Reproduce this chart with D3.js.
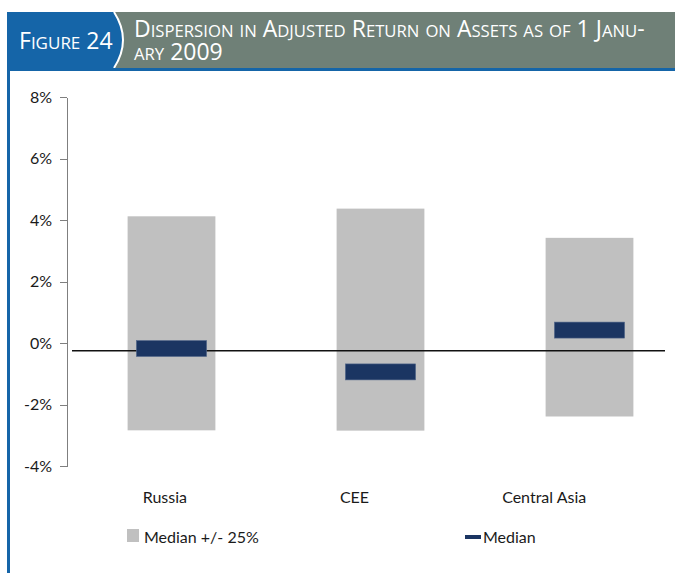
<!DOCTYPE html>
<html lang="en">
  <head>
    <meta charset="utf-8">
    <title>Figure 24 -- Dispersion in adjusted ROA</title>
    <script src="https://cdn.jsdelivr.net/npm/d3@7"></script>
    <style>
      body { margin: 0; background: #fff; }
      .axis text { font-family: Lato, sans-serif; font-size: 16px; fill: #1a1a1a; }
      .axis path, .axis line { stroke: #7f7f7f; shape-rendering: crispEdges; }
      .cat_label, .legend text { font-family: Lato, sans-serif; font-size: 16px; fill: #1a1a1a; }
      .head text { font-family: "Open Sans", sans-serif; fill: #fff; }
    </style>
  </head>
  <body>
    <div id="svg-area"></div>
    <script>
      const svg_width = 675;
      const svg_height = 573;

      // data (percent)
      const categories = ['Russia', 'CEE', 'Central Asia'];
      const range_low = [-2.84, -2.85, -2.39];
      const range_high = [4.12, 4.37, 3.42];
      const medians = [-0.18, -0.94, 0.42];
      const ref_value = -0.25;
      const y_ticks = [-4, -2, 0, 2, 4, 6, 8];
      const legend_labels = ['Median +/- 25%', 'Median'];

      const dataset = categories.map((c, i) => ({
        key: c, low: range_low[i], high: range_high[i], median: medians[i]
      }));

      const margin = {top: 97, right: -19, bottom: 107, left: 67};

      const svg = d3.select('#svg-area')
        .append('svg')
        .attr('width', svg_width)
        .attr('height', svg_height);

      //header
      const head = svg.append('g').attr('class', 'head');
      head.append('rect').attr('x', 7).attr('y', 12).attr('width', svg_width - 7).attr('height', 56)
        .attr('fill', '#6f8077');
      head.append('path')
        .attr('d', 'M7,12 L114,12 Q132,40 114,68 L7,68 Z')
        .attr('fill', '#1565a8');
      head.append('path')
        .attr('d', 'M114,12 Q132,40 114,68')
        .attr('fill', 'none').attr('stroke', '#fff').attr('stroke-width', 2);
      head.append('rect').attr('x', 7).attr('y', 68).attr('width', svg_width - 7).attr('height', 3)
        .attr('fill', '#1565a8');
      // left frame line
      svg.append('rect').attr('x', 7).attr('y', 68).attr('width', 3).attr('height', svg_height - 68)
        .attr('fill', '#1565a8');

      // small caps helper: capitals large, lower case as small capitals
      function smallCaps(textSel, str, big, small, x, dy) {
        const parts = str.match(/[A-Z0-9\- ]+|[a-z]+/g);
        parts.forEach((p, i) => {
          const lower = /[a-z]/.test(p);
          const ts = textSel.append('tspan')
            .attr('font-size', lower ? small : big)
            .text(lower ? p.toUpperCase() : p);
          if (i === 0 && x !== undefined) ts.attr('x', x).attr('dy', dy);
        });
      }
      smallCaps(head.append('text').attr('x', 19).attr('y', 49), 'Figure 24', 23, 17);
      const title = head.append('text').attr('x', 134).attr('y', 37);
      smallCaps(title, 'Dispersion in Adjusted Return on Assets as of 1 Janu-', 23, 16.7);
      smallCaps(title, 'ary 2009', 23, 16.7, 134, 23);

      //scales
      const x_scale = d3.scaleBand()
        .domain(categories)
        .range([margin.left, svg_width - margin.right])
        .paddingInner(0.58)
        .paddingOuter(0.29);
      // category labels sit a little left of the bars in the original
      const label_scale = d3.scaleBand()
        .domain(categories)
        .range([70, 639]);
      const y_scale = d3.scaleLinear()
        .domain([d3.min(y_ticks), d3.max(y_ticks)])
        .range([svg_height - margin.bottom, margin.top]);

      //y axis
      const y_axis = d3.axisLeft(y_scale)
        .tickValues(y_ticks)
        .tickSize(7)
        .tickSizeOuter(0)
        .tickPadding(8)
        .tickFormat(d => d + '%');
      svg.append('g')
        .attr('class', 'axis')
        .attr('transform', `translate(${margin.left},0)`)
        .call(y_axis);

      //range bars
      svg.append('g')
        .selectAll('rect').data(dataset).enter()
        .append('rect')
        .attr('x', d => x_scale(d.key))
        .attr('y', d => y_scale(d.high))
        .attr('width', x_scale.bandwidth())
        .attr('height', d => y_scale(d.low) - y_scale(d.high))
        .attr('fill', '#c0c0c0');

      //reference line
      svg.append('line')
        .attr('x1', margin.left + 5).attr('x2', 665)
        .attr('y1', y_scale(ref_value)).attr('y2', y_scale(ref_value))
        .attr('stroke', '#111').attr('stroke-width', 1.6);

      //median markers
      const mw = x_scale.bandwidth() * 0.8;
      const mh = 16;
      svg.append('g')
        .selectAll('rect').data(dataset).enter()
        .append('rect')
        .attr('x', d => x_scale(d.key) + (x_scale.bandwidth() - mw) / 2)
        .attr('y', d => y_scale(d.median) - mh / 2)
        .attr('width', mw)
        .attr('height', mh)
        .attr('fill', '#1b3562')
        .attr('stroke', '#55698c')
        .attr('stroke-width', 0.6);

      //category labels
      svg.append('g')
        .selectAll('text').data(dataset).enter()
        .append('text')
        .attr('class', 'cat_label')
        .attr('text-anchor', 'middle')
        .attr('x', d => label_scale(d.key) + label_scale.bandwidth() / 2)
        .attr('y', 503)
        .text(d => d.key);

      //legend
      const legend = svg.append('g').attr('class', 'legend');
      legend.append('rect').attr('x', 127).attr('y', 529).attr('width', 12).attr('height', 13).attr('fill', '#c0c0c0');
      legend.append('text').attr('x', 144).attr('y', 543).text(legend_labels[0]);
      legend.append('rect').attr('x', 465).attr('y', 535).attr('width', 16).attr('height', 4).attr('fill', '#1b3562');
      legend.append('text').attr('x', 483).attr('y', 543).text(legend_labels[1]);
    </script>
  </body>
</html>
